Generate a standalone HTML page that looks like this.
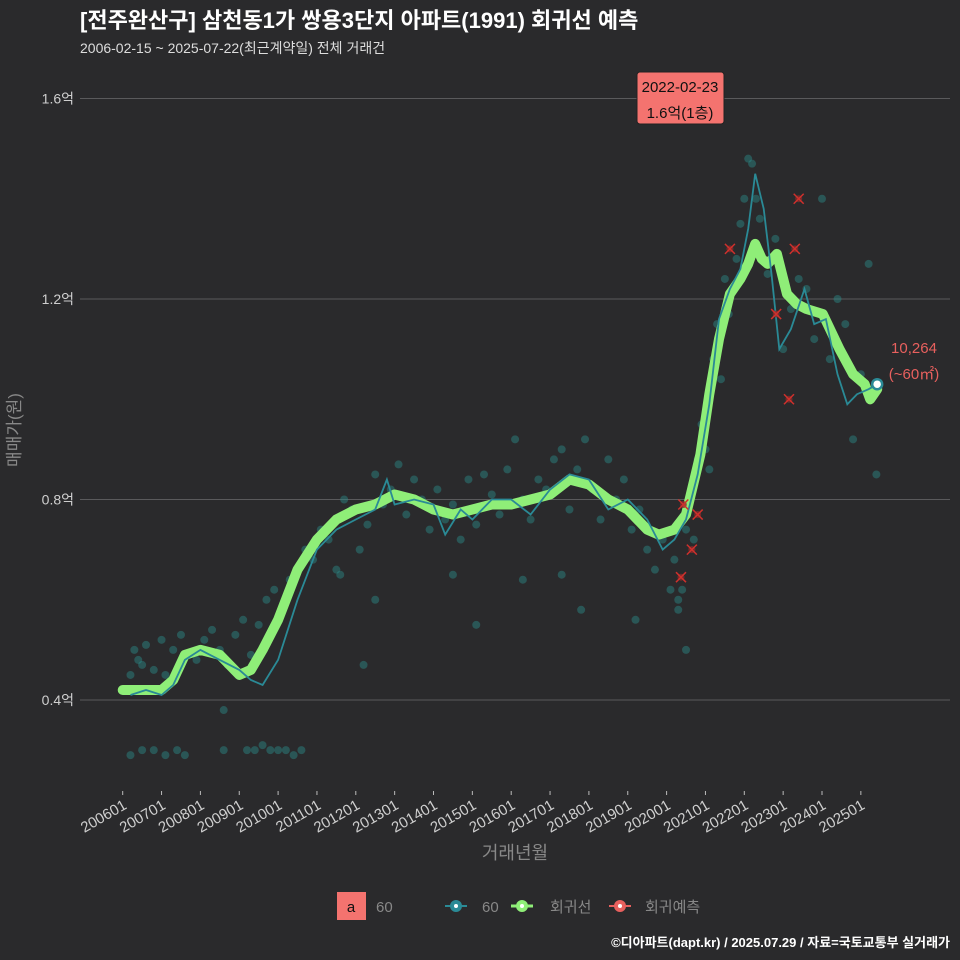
<!DOCTYPE html>
<html><head><meta charset="utf-8">
<style>
html,body{margin:0;padding:0;background:#2a2a2c;}
svg{display:block;font-family:"Liberation Sans","Noto Sans CJK KR",sans-serif;}
</style></head>
<body>
<svg id="chart" width="960" height="960" viewBox="0 0 960 960">
<rect width="960" height="960" fill="#2a2a2c"/>
<text x="80" y="28" fill="#ffffff" font-size="22" font-weight="bold">[전주완산구] 삼천동1가 쌍용3단지 아파트(1991) 회귀선 예측</text>
<text x="80" y="53" fill="#dddddd" font-size="14">2006-02-15 ~ 2025-07-22(최근계약일) 전체 거래건</text>
<g id="grid"></g>
<g id="yaxis"></g>
<g id="xaxis"></g>
<g id="dots"></g>
<g id="lines"></g>
<g id="preds"></g>
<text x="0" y="0" transform="translate(20,430) rotate(-90)" text-anchor="middle" fill="#888" font-size="17">매매가(원)</text>
<text x="515" y="859" text-anchor="middle" fill="#888" font-size="18">거래년월</text>
<g>
<rect x="637" y="72" width="87" height="52" rx="3" fill="#f4736f" stroke="#222"/>
<text x="680" y="92" text-anchor="middle" font-size="15" fill="#111">2022-02-23</text>
<text x="680" y="118" text-anchor="middle" font-size="15" fill="#111">1.6억(1층)</text>
</g>
<text x="914" y="353" text-anchor="middle" font-size="15" fill="#e8605e">10,264</text>
<text x="914" y="379" text-anchor="middle" font-size="15" fill="#e8605e">(~60㎡)</text>
<g>
<rect x="337" y="892" width="29" height="28" fill="#f4736f"/>
<text x="351" y="912" text-anchor="middle" font-size="15" fill="#111">a</text>
<text x="376" y="912" font-size="15" fill="#888">60</text>
<g>
<line x1="445" y1="906" x2="467" y2="906" stroke="#2a8a96" stroke-width="2"/>
<circle cx="456" cy="906" r="6" fill="#2a8a96"/><circle cx="456" cy="906" r="2" fill="#fff"/>
<text x="482" y="912" font-size="15" fill="#888">60</text></g>
<g>
<line x1="511" y1="906" x2="533" y2="906" stroke="#8fee78" stroke-width="3"/>
<circle cx="522" cy="906" r="6" fill="#8fee78"/><circle cx="522" cy="906" r="2" fill="#fff"/>
<text x="550" y="912" font-size="15" fill="#888">회귀선</text></g>
<g>
<line x1="609" y1="906" x2="631" y2="906" stroke="#e8605e" stroke-width="2"/>
<circle cx="620" cy="906" r="6" fill="#e8605e"/><circle cx="620" cy="906" r="2" fill="#fff"/>
<text x="645" y="912" font-size="15" fill="#888">회귀예측</text></g>
</g>
<text x="950" y="947" text-anchor="end" font-size="13" font-weight="bold" fill="#ffffff">©디아파트(dapt.kr) / 2025.07.29 / 자료=국토교통부 실거래가</text>
</svg>
<script>
const yTicks=[0.4,0.8,1.2,1.6];
const yTickLabels=["0.4억","0.8억","1.2억","1.6억"];
const xTickYears=[2006,2007,2008,2009,2010,2011,2012,2013,2014,2015,2016,2017,2018,2019,2020,2021,2022,2023,2024,2025];
const xTickLabels=["200601","200701","200801","200901","201001","201101","201201","201301","201401","201501","201601","201701","201801","201901","202001","202101","202201","202301","202401","202501"];
const regDates=[2006.0,2006.5,2007.0,2007.3,2007.6,2008.0,2008.5,2009.0,2009.3,2009.6,2010.0,2010.5,2011.0,2011.5,2012.0,2012.5,2013.0,2013.5,2014.0,2014.5,2015.0,2015.5,2016.0,2016.5,2017.0,2017.5,2018.0,2018.5,2019.0,2019.5,2019.8,2020.2,2020.5,2020.87,2021.1,2021.35,2021.63,2021.9,2022.1,2022.28,2022.45,2022.6,2022.84,2023.1,2023.35,2023.6,2024.02,2024.45,2024.8,2025.1,2025.24,2025.42];
const regValues=[0.42,0.42,0.42,0.44,0.49,0.50,0.49,0.45,0.46,0.50,0.56,0.66,0.72,0.76,0.78,0.79,0.81,0.80,0.78,0.77,0.78,0.79,0.79,0.80,0.81,0.84,0.83,0.80,0.78,0.74,0.73,0.74,0.77,0.89,1.01,1.12,1.21,1.24,1.27,1.31,1.28,1.27,1.29,1.21,1.19,1.18,1.17,1.10,1.05,1.03,1.00,1.02];
const maDates=[2006.2,2006.6,2007.0,2007.3,2007.6,2008.0,2008.5,2009.0,2009.3,2009.6,2010.0,2010.5,2011.0,2011.5,2012.0,2012.5,2012.8,2013.0,2013.5,2014.0,2014.3,2014.7,2015.0,2015.5,2016.0,2016.5,2017.0,2017.5,2018.0,2018.5,2019.0,2019.5,2019.9,2020.2,2020.5,2020.8,2021.1,2021.35,2021.63,2021.9,2022.1,2022.28,2022.5,2022.7,2022.9,2023.2,2023.55,2023.8,2024.1,2024.4,2024.65,2024.9,2025.2,2025.42];
const maValues=[0.41,0.42,0.41,0.43,0.48,0.50,0.48,0.46,0.44,0.43,0.48,0.60,0.70,0.74,0.76,0.78,0.84,0.79,0.80,0.79,0.73,0.78,0.76,0.80,0.80,0.77,0.82,0.85,0.84,0.78,0.80,0.76,0.70,0.72,0.76,0.85,0.99,1.16,1.22,1.26,1.34,1.45,1.38,1.25,1.10,1.14,1.22,1.15,1.16,1.05,0.99,1.01,1.02,1.03];
const dealDates=[2006.2,2006.3,2006.4,2006.5,2006.6,2006.8,2007.0,2007.1,2007.3,2007.5,2007.7,2007.9,2008.1,2008.3,2008.5,2008.7,2008.9,2009.1,2009.3,2009.5,2009.7,2009.9,2010.1,2010.3,2010.5,2010.7,2010.9,2011.1,2011.3,2011.5,2011.7,2011.9,2012.1,2012.3,2012.5,2012.7,2012.9,2013.1,2013.3,2013.5,2013.7,2013.9,2014.1,2014.3,2014.5,2014.7,2014.9,2015.1,2015.3,2015.5,2015.7,2015.9,2016.1,2016.3,2016.5,2016.7,2016.9,2017.1,2017.3,2017.5,2017.7,2017.9,2018.1,2018.3,2018.5,2018.7,2018.9,2019.1,2019.3,2019.5,2019.7,2019.9,2020.1,2020.2,2020.3,2020.4,2020.5,2020.6,2020.7,2020.8,2020.9,2021.0,2021.1,2021.2,2021.3,2021.4,2021.5,2021.6,2021.7,2021.8,2021.9,2022.0,2022.1,2022.2,2022.3,2022.4,2022.6,2022.8,2023.0,2023.2,2023.4,2023.6,2023.8,2024.0,2024.2,2024.4,2024.6,2024.8,2025.0,2025.2,2025.4,2006.2,2006.5,2006.8,2007.1,2007.4,2007.6,2008.6,2009.2,2009.4,2009.6,2009.8,2010.0,2010.2,2010.4,2010.6,2008.6,2011.6,2012.5,2014.5,2015.1,2016.3,2017.3,2017.8,2019.2,2020.3,2020.5,2012.2];
const dealPrices=[0.45,0.50,0.48,0.47,0.51,0.46,0.52,0.45,0.50,0.53,0.49,0.48,0.52,0.54,0.50,0.47,0.53,0.56,0.49,0.55,0.60,0.62,0.58,0.64,0.66,0.70,0.68,0.74,0.72,0.66,0.80,0.78,0.70,0.75,0.85,0.79,0.82,0.87,0.77,0.84,0.80,0.74,0.82,0.76,0.79,0.72,0.84,0.75,0.85,0.81,0.77,0.86,0.92,0.80,0.76,0.84,0.82,0.88,0.90,0.78,0.86,0.92,0.82,0.76,0.88,0.80,0.84,0.74,0.78,0.70,0.66,0.72,0.62,0.68,0.58,0.62,0.74,0.80,0.72,0.88,0.95,0.90,0.86,1.08,1.15,1.04,1.24,1.17,1.22,1.28,1.35,1.40,1.48,1.47,1.40,1.36,1.25,1.32,1.10,1.18,1.24,1.22,1.12,1.40,1.08,1.20,1.15,0.92,1.05,1.27,0.85,0.29,0.30,0.30,0.29,0.30,0.29,0.30,0.30,0.30,0.31,0.30,0.30,0.30,0.29,0.30,0.38,0.65,0.60,0.65,0.55,0.64,0.65,0.58,0.56,0.60,0.50,0.47];
const predDates=[2020.37,2020.65,2020.8,2020.43,2021.63,2022.82,2023.15,2023.3,2023.4];
const predValues=[0.645,0.70,0.77,0.79,1.30,1.17,1.00,1.30,1.40];

const NS="http://www.w3.org/2000/svg";
function xs(t){return 122.7+(t-2006)*38.85;}
function ys(v){return 700-(v-0.4)*501.25;}
function mk(tag,attrs,parent){const e=document.createElementNS(NS,tag);for(const k in attrs)e.setAttribute(k,attrs[k]);parent.appendChild(e);return e;}
const grid=document.getElementById('grid'),yax=document.getElementById('yaxis'),xax=document.getElementById('xaxis');
yTicks.forEach((v,i)=>{
  const l=mk('line',{x1:80,x2:950,y1:ys(v),y2:ys(v),stroke:'#5a5a5c','stroke-width':1},grid);
  
  
  const t=mk('text',{x:74,y:ys(v)+5,'text-anchor':'end','font-size':14,fill:'#cfcfcf'},yax);
  t.textContent=yTickLabels[i];
  
  
});
xTickYears.forEach((yr,i)=>{
  const x=xs(yr);
  const tk=mk('line',{x1:x,x2:x,y1:791,y2:795,stroke:'#bbb','stroke-width':1},xax);
  
  
  const t=mk('text',{x:0,y:0,'text-anchor':'end','font-size':15,fill:'#cfcfcf',transform:`translate(${x+5},808) rotate(-30)`},xax);
  t.textContent=xTickLabels[i];
  
  
});
const dots=document.getElementById('dots');
dealDates.forEach((d,i)=>{
  const c=mk('circle',{cx:xs(d),cy:ys(dealPrices[i]),r:4,fill:'#2a8c8a','fill-opacity':0.45},dots);
  
  
});
const lines=document.getElementById('lines');
const rp=regDates.map((d,i)=>xs(d).toFixed(1)+','+ys(regValues[i]).toFixed(1)).join(' ');
const reg=mk('polyline',{points:rp,fill:'none',stroke:'#8fee78','stroke-width':10,'stroke-linejoin':'round','stroke-linecap':'round'},lines);


const mp=maDates.map((d,i)=>xs(d).toFixed(1)+','+ys(maValues[i]).toFixed(1)).join(' ');
const ma=mk('polyline',{points:mp,fill:'none',stroke:'#2a8a96','stroke-width':1.8},lines);


const last=maDates.length-1;
const lm=mk('circle',{cx:xs(maDates[last]),cy:ys(maValues[last]),r:5,fill:'#fff',stroke:'#2a8a96','stroke-width':2.5},lines);


const preds=document.getElementById('preds');
predDates.forEach((d,i)=>{
  const x=xs(d),y=ys(predValues[i]);
  const g=mk('g',{},preds);
  
  
  mk('circle',{cx:x,cy:y,r:3.5,fill:'#8a2a2a','fill-opacity':0.8},g);
  mk('path',{d:`M${x-5},${y-5}L${x+5},${y+5}M${x-5},${y+5}L${x+5},${y-5}`,stroke:'#d0302c','stroke-width':1.5},g);
});
</script>
</body></html>
